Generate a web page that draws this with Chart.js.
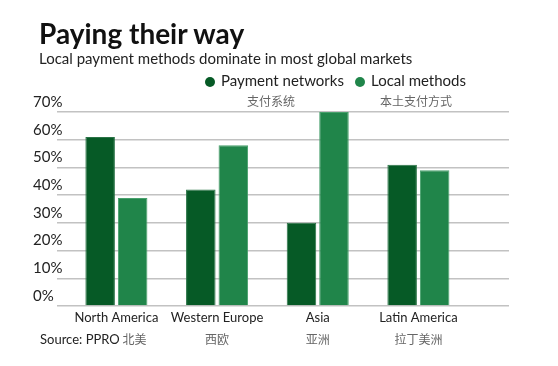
<!DOCTYPE html>
<html>
<head>
<meta charset="utf-8">
<script src="https://cdn.jsdelivr.net/npm/chart.js@4/dist/chart.umd.min.js"></script>
<style>
  body { margin: 0; background: #fff; font-family: Lato, 'Noto Sans', sans-serif; }
  #wrap { position: relative; width: 558px; height: 366px; overflow: hidden; }
  #chart { position: absolute; left: 0; top: 0; }
  .abs { position: absolute; white-space: nowrap; }
  .title { left: 39px; top: 16px; font-size: 28px; font-weight: 700; color: #111; }
  .subtitle { left: 39px; top: 49px; font-size: 15px; color: #222; }
  .legend-item { top: 71px; font-size: 15px; color: #222; }
  .dot { display: inline-block; width: 10px; height: 10px; border-radius: 50%; margin-right: 6px; vertical-align: -1px; }
  .cn { font-family: 'Noto Sans CJK SC', sans-serif; font-size: 12px; color: #666; top: 92px; }
  .source { left: 40px; top: 331px; font-size: 13px; color: #222; }
</style>
</head>
<body>
<div id="wrap">
  <canvas id="chart" width="558" height="366"></canvas>
  <div class="abs title">Paying their way</div>
  <div class="abs subtitle">Local payment methods dominate in most global markets</div>
  <div class="abs legend-item" style="left:205px"><span class="dot" style="background:#065a26"></span>Payment networks</div>
  <div class="abs legend-item" style="left:355px"><span class="dot" style="background:#20854a"></span>Local methods</div>
  <div class="abs cn" style="left:247px">支付系统</div>
  <div class="abs cn" style="left:380px">本土支付方式</div>
  <div class="abs source">Source: PPRO</div>
</div>
<script>
const categories = ['North America', 'Western Europe', 'Asia', 'Latin America'];
const categoriesCn = ['北美', '西欧', '亚洲', '拉丁美洲'];
const paymentNetworks = [61, 42, 30, 51];
const localMethods = [39, 58, 70, 49];
const yTicks = [0, 10, 20, 30, 40, 50, 60, 70];

const toPoints = values => values.map((v, i) => ({ x: i, y: v }));
const categoryTicks = scale => { scale.ticks = categories.map((c, i) => ({ value: i })); };

// category slots sit inside a wider grid, so x is a plain number line
const xRange = { min: -0.59, max: 3.9, offset: false };

new Chart(document.getElementById('chart').getContext('2d'), {
    type: 'bar',
    data: {
        datasets: [
            {
                label: 'Payment networks',
                data: toPoints(paymentNetworks),
                backgroundColor: '#065a26',
                borderColor: '#2a7346',
                borderWidth: 1,
                categoryPercentage: 0.646,
                barPercentage: 0.908
            },
            {
                label: 'Local methods',
                data: toPoints(localMethods),
                backgroundColor: '#20854a',
                borderColor: '#47a06c',
                borderWidth: 1,
                categoryPercentage: 0.646,
                barPercentage: 0.908
            }
        ]
    },
    options: {
        responsive: false,
        animation: false,
        // negative tick padding on the mirrored y axis eats 16px, hence 57
        layout: { padding: { left: 57, right: 49, top: 112, bottom: 16 } },
        plugins: { legend: { display: false }, tooltip: { enabled: false } },
        scales: {
            x: {
                type: 'linear',
                ...xRange,
                afterBuildTicks: categoryTicks,
                grid: { display: false, drawTicks: false, offset: false },
                border: { display: false },
                ticks: {
                    autoSkip: false,
                    maxRotation: 0,
                    padding: 4,
                    color: '#222',
                    font: { family: 'Lato', size: 13 },
                    callback: value => categories[value]
                }
            },
            xcn: {
                type: 'linear',
                position: 'bottom',
                ...xRange,
                afterBuildTicks: categoryTicks,
                grid: { display: false, drawTicks: false, offset: false },
                border: { display: false },
                ticks: {
                    autoSkip: false,
                    maxRotation: 0,
                    padding: 3,
                    color: '#666',
                    font: { family: 'Noto Sans CJK SC', size: 12 },
                    // first label is nudged right, clear of the source line
                    callback: value => (value === 0 ? '\u3000\u3000\u3000' : '') + categoriesCn[value]
                }
            },
            y: {
                min: 0,
                max: 70,
                afterBuildTicks: scale => { scale.ticks = yTicks.map(v => ({ value: v })); },
                grid: { color: '#c2c2c2', lineWidth: 1.5, drawTicks: false },
                border: { display: false },
                ticks: {
                    mirror: true,
                    padding: -8,
                    labelOffset: -10,
                    color: '#222',
                    font: { family: 'Lato', size: 15 },
                    callback: value => value + '%'
                }
            }
        }
    }
});
</script>
</body>
</html>
